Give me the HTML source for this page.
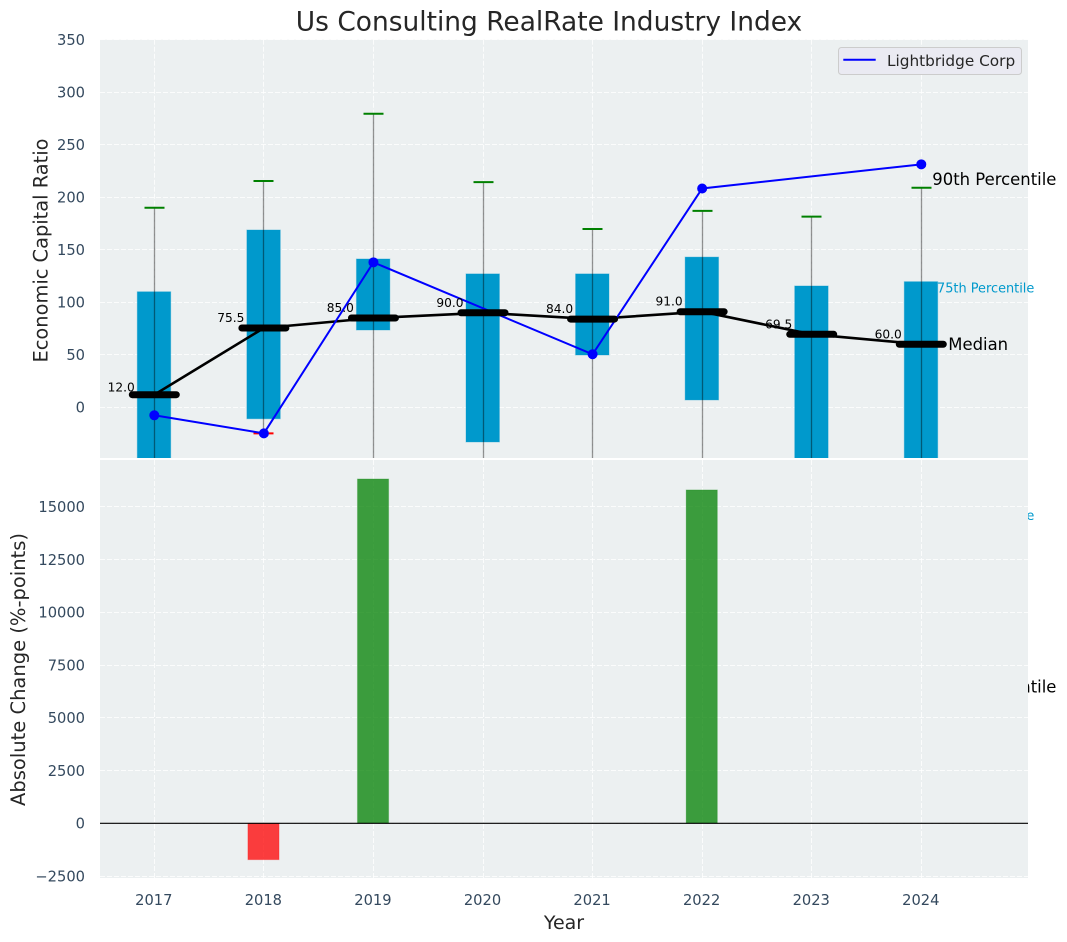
<!DOCTYPE html>
<html>
<head>
<meta charset="utf-8">
<title>Us Consulting RealRate Industry Index</title>
<style>
html,body{margin:0;padding:0;background:#fff;}
svg{display:block;font-family:"DejaVu Sans","Liberation Sans",sans-serif;}
</style>
</head>
<body>
<svg id="chart" width="1067" height="942" viewBox="0 0 1067 942" xmlns="http://www.w3.org/2000/svg">
  <defs>
    <clipPath id="top-clip"><rect x="100" y="39.7" width="928" height="418.3"></rect></clipPath>
  </defs>
  <text x="549" y="30.5" text-anchor="middle" font-size="26.45" fill="#262626">Us Consulting RealRate Industry Index</text>
  <g id="top-panel"></g>
  <g id="bottom-panel"></g>
  <text transform="translate(47.3 250.5) rotate(-90)" text-anchor="middle" font-size="19.4" fill="#262626">Economic Capital Ratio</text>
  <text transform="translate(25 669.5) rotate(-90)" text-anchor="middle" font-size="19.5" fill="#262626">Absolute Change (%-points)</text>
  <text x="564" y="929" text-anchor="middle" font-size="19" fill="#262626">Year</text>
  <g>
    <rect x="838.5" y="47.5" width="183" height="27" rx="3" fill="#eaeaf2" stroke="#cccccc" stroke-width="1"></rect>
    <line x1="843.3" x2="875.7" y1="59.7" y2="59.7" stroke="#0000ff" stroke-width="2"></line>
    <text x="887" y="66" font-size="15.3" fill="#262626">Lightbridge Corp</text>
  </g>
</svg>
<script>
const years = [2017, 2018, 2019, 2020, 2021, 2022, 2023, 2024];
const medianValues = [12.0, 75.5, 85.0, 90.0, 84.0, 91.0, 69.5, 60.0];
const p75Values = [110, 168.8, 141.2, 127, 127, 143, 115.5, 119.6];
const p25Values = [-70, -10.9, 73.6, -33, 49.8, 7, -80, -103];
const whiskerHighValues = [190, 215.4, 279.5, 214.4, 169.8, 187, 181.5, 209];
const whiskerLowValues = [-150, -24.8, -90, -120, -95, -80, -170, -266];
const companyValues = [-7.6, -24.8, 138, null, 50.5, 208.3, null, 231.3];
const changeValues = [null, -1725, 16320, null, null, 15800, null, null];
const ratioTicks = [0, 50, 100, 150, 200, 250, 300, 350];
const changeTicks = [-2500, 0, 2500, 5000, 7500, 10000, 12500, 15000];
const percentileLabelNames = ['90th Percentile', '75th Percentile', 'Median', '25th Percentile', '10th Percentile'];
const percentileLabelValues = [217, 113.7, 60, -103, -266];

const NS = 'http://www.w3.org/2000/svg';
const PANEL_LEFT = 100, PANEL_RIGHT = 1028;
const TOP_PANEL_TOP = 39.7, TOP_PANEL_BOTTOM = 458;
const BOTTOM_PANEL_TOP = 460, BOTTOM_PANEL_BOTTOM = 878;
function xScale(year) { return 154.3 + (year - 2017) * 109.57; }
function yRatio(v) { return 407.3 - v * 1.0504; }
function yChange(v) { return 823.3 - v * 0.0211; }
function snap(p) { return Math.floor(p) + 0.5; }

function draw(tag, parent, attrs) {
  const el = document.createElementNS(NS, tag);
  for (const k in attrs) el.setAttribute(k, attrs[k]);
  parent.appendChild(el);
  return el;
}

const topPanel = document.getElementById('top-panel');
const bottomPanel = document.getElementById('bottom-panel');

/* ---------- top panel background and grid ---------- */
const topBg = draw('rect', topPanel, {x: PANEL_LEFT, y: TOP_PANEL_TOP, width: PANEL_RIGHT - PANEL_LEFT, height: TOP_PANEL_BOTTOM - TOP_PANEL_TOP, fill: '#ecf0f1'});



function grid(parent, yTop, yBottom, ticks, yFn) {
  years.forEach(function (yr) {
    const g = draw('line', parent, {x1: snap(xScale(yr)), x2: snap(xScale(yr)), y1: yTop, y2: yBottom, stroke: '#ffffff', 'stroke-width': 1, 'stroke-dasharray': '5 2', 'stroke-opacity': 0.8});
    
    
  });
  ticks.forEach(function (t) {
    const g = draw('line', parent, {x1: PANEL_LEFT, x2: PANEL_RIGHT, y1: snap(yFn(t)), y2: snap(yFn(t)), stroke: '#ffffff', 'stroke-width': 1, 'stroke-dasharray': '5 2', 'stroke-opacity': 0.8});
    
    
    const lab = draw('text', parent, {x: 85, y: yFn(t) + 5.3, 'text-anchor': 'end', 'font-size': 14.67, fill: '#34495e'});
    lab.textContent = String(t).replace('-', '\u2212');
    
    
  });
}
grid(topPanel, TOP_PANEL_TOP, TOP_PANEL_BOTTOM, ratioTicks, yRatio);

/* ---------- top panel marks (clipped to axes) ---------- */
const marks = draw('g', topPanel, {'clip-path': 'url(#top-clip)'});



years.forEach(function (yr, i) {
  const cx = xScale(yr);
  const top = yRatio(p75Values[i]), bot = yRatio(p25Values[i]);
  const box = draw('rect', marks, {x: cx - 17, y: top, width: 33.4, height: bot - top, fill: '#0099cc', stroke: '#0099cc', 'stroke-opacity': 0.35, 'stroke-width': 1});
  
  
});
years.forEach(function (yr, i) {
  const cx = snap(xScale(yr));
  const w = draw('line', marks, {x1: cx, x2: cx, y1: yRatio(whiskerHighValues[i]), y2: yRatio(whiskerLowValues[i]), stroke: '#000000', 'stroke-opacity': 0.42, 'stroke-width': 1.3});
  
  
  const capHigh = draw('line', marks, {x1: cx - 10, x2: cx + 10, y1: yRatio(whiskerHighValues[i]), y2: yRatio(whiskerHighValues[i]), stroke: '#008000', 'stroke-width': 2});
  
  
  const capLow = draw('line', marks, {x1: cx - 10, x2: cx + 10, y1: yRatio(whiskerLowValues[i]), y2: yRatio(whiskerLowValues[i]), stroke: '#ff0000', 'stroke-width': 2});
  
  
});

const medianPath = draw('polyline', marks, {
  points: years.map(function (yr, i) { return xScale(yr) + ',' + yRatio(medianValues[i]); }).join(' '),
  fill: 'none', stroke: '#000000', 'stroke-width': 2.6
});



const companyPath = draw('polyline', marks, {
  points: years.map(function (yr, i) { return companyValues[i] === null ? null : xScale(yr) + ',' + yRatio(companyValues[i]); }).filter(Boolean).join(' '),
  fill: 'none', stroke: '#0000ff', 'stroke-width': 2
});



years.forEach(function (yr, i) {
  const cx = xScale(yr), my = yRatio(medianValues[i]);
  const m = draw('line', marks, {x1: cx - 22, x2: cx + 22, y1: my, y2: my, stroke: '#000000', 'stroke-width': 7, 'stroke-linecap': 'round'});
  
  
  if (companyValues[i] !== null) {
    const dot = draw('circle', marks, {cx: cx, cy: yRatio(companyValues[i]), r: 5, fill: '#0000ff'});
    
    
  }
});

/* ---------- top panel annotations (unclipped; lower ones get covered by bottom panel) ---------- */
years.forEach(function (yr, i) {
  const lift = medianValues[i] < 20 ? 3 : 6;
  const t = draw('text', topPanel, {x: xScale(yr) - 19.5, y: yRatio(medianValues[i]) - lift, 'text-anchor': 'end', 'font-size': 12.2, fill: '#000000'});
  t.textContent = medianValues[i].toFixed(1);
  
  
});
function percentileLabel(i, x, size, color, drop) {
  const t = draw('text', topPanel, {x: x, y: yRatio(percentileLabelValues[i]) + drop, 'font-size': size, fill: color});
  t.textContent = percentileLabelNames[i];
  
  
}
percentileLabel(0, 932.3, 16.45, '#000000', 5.7);
percentileLabel(1, 937, 12.9, '#0099cc', 4.5);
percentileLabel(2, 948.3, 16.45, '#000000', 5.7);
percentileLabel(3, 937, 12.9, '#0099cc', 4.5);
percentileLabel(4, 932.3, 16.45, '#000000', 5.7);

/* ---------- bottom panel ---------- */
const bottomBg = draw('rect', bottomPanel, {x: PANEL_LEFT, y: BOTTOM_PANEL_TOP, width: PANEL_RIGHT - PANEL_LEFT, height: BOTTOM_PANEL_BOTTOM - BOTTOM_PANEL_TOP, fill: '#ecf0f1'});


grid(bottomPanel, BOTTOM_PANEL_TOP, BOTTOM_PANEL_BOTTOM, changeTicks, yChange);

years.forEach(function (yr, i) {
  const v = changeValues[i];
  if (v !== null) {
    const y0 = yChange(0), y1 = yChange(v);
    const color = v >= 0 ? '#008000' : '#ff0000';
    const bar = draw('rect', bottomPanel, {x: xScale(yr) - 16, y: Math.min(y0, y1), width: 31.2, height: Math.abs(y1 - y0), fill: color, 'fill-opacity': 0.75, stroke: color, 'stroke-opacity': 0.2, 'stroke-width': 1});
    
    
  }
  const lab = draw('text', bottomPanel, {x: xScale(yr) - 0.5, y: 905, 'text-anchor': 'middle', 'font-size': 14.67, fill: '#34495e'});
  lab.textContent = String(yr);
  
  
});

const zero = draw('line', bottomPanel, {x1: PANEL_LEFT, x2: PANEL_RIGHT, y1: yChange(0), y2: yChange(0), stroke: '#000000', 'stroke-width': 1.2});


</script>
</body>
</html>
